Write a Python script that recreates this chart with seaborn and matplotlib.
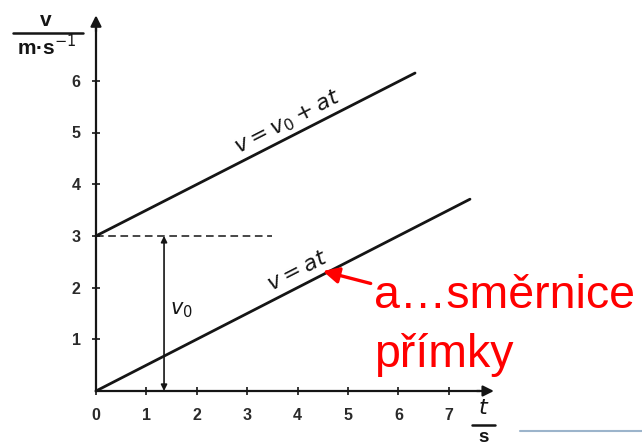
import numpy as np
import pandas as pd
import matplotlib.pyplot as plt
import seaborn as sns

# hodnoty
t_ticks = [0, 1, 2, 3, 4, 5, 6, 7]
v_ticks = [1, 2, 3, 4, 5, 6]
upper_t = [0.0, 6.33]
upper_v = [3.0, 6.15]
lower_t = [0.0, 7.42]
lower_v = [0.0, 3.71]
dash_t = [0.0, 3.5]
dash_v = [3.0, 3.0]
v0_t = 1.35
v0 = 3.0

W, H = 642, 447
sns.set_theme(style="white")
plt.rcParams["font.family"] = ["Liberation Sans", "DejaVu Sans"]

fig = plt.figure(figsize=(W / 100, H / 100), dpi=100)
ax = fig.add_axes([0, 0, 1, 1])
ax.patch.set_alpha(0)

# počátek a měřítko (v pixelech)
x0, y0 = 96, 391
sx, sy = 50.4, 51.7
ax.set_xlim(-x0 / sx, (W - x0) / sx)
ax.set_ylim(-(H - y0) / sy, y0 / sy)

ink = "#151515"

df_up = pd.DataFrame({"t": upper_t, "v": upper_v})
df_lo = pd.DataFrame({"t": lower_t, "v": lower_v})
sns.lineplot(data=df_up, x="t", y="v", ax=ax, color=ink, linewidth=2.0)
sns.lineplot(data=df_lo, x="t", y="v", ax=ax, color=ink, linewidth=2.0)
sns.lineplot(x=dash_t, y=dash_v, ax=ax, color=ink, linewidth=1.1, linestyle=(0, (5, 3)))

# osy se šipkami
for s in ["top", "right"]:
    ax.spines[s].set_visible(False)
ax.spines["left"].set_position(("data", 0))
ax.spines["bottom"].set_position(("data", 0))
ax.spines["left"].set_bounds(0, 7.0)
ax.spines["bottom"].set_bounds(0, 7.6)
for s in ["left", "bottom"]:
    ax.spines[s].set_color(ink)
    ax.spines[s].set_linewidth(1.6)
ax.annotate("", xy=(7.95, 0), xytext=(7.5, 0),
            arrowprops=dict(arrowstyle="-|>", color=ink, lw=1.6, mutation_scale=16))
ax.annotate("", xy=(0, 7.32), xytext=(0, 6.9),
            arrowprops=dict(arrowstyle="-|>", color=ink, lw=1.6, mutation_scale=16))

ax.set_xticks(t_ticks)
ax.set_yticks(v_ticks)
ax.set_xticklabels([str(t) for t in t_ticks])
ax.set_yticklabels([str(v) for v in v_ticks])
ax.tick_params(bottom=True, left=True, direction="inout", length=6, width=1.2,
               color=ink, labelcolor="#2a2a2a", labelsize=11.5)
ax.tick_params(axis="x", pad=9)
ax.tick_params(axis="y", pad=8)
for lab in ax.get_xticklabels() + ax.get_yticklabels():
    lab.set_fontweight("bold")
ax.set_xlabel("")
ax.set_ylabel("")

# v0 - dvojitá šipka
ax.annotate("", xy=(v0_t, v0), xytext=(v0_t, 0),
            arrowprops=dict(arrowstyle="<|-|>", color=ink, lw=1.2, mutation_scale=9,
                            shrinkA=0, shrinkB=0))
ax.text(v0_t + 0.35, 1.57, r"$v_0$", fontsize=15, color=ink, ha="center", va="center")

# popisky přímek
ang = np.degrees(np.arctan(0.5 * sy / sx))
ax.text(4.0, 2.32, r"$v = at$", rotation=ang, rotation_mode="anchor",
        fontsize=16, color=ink, ha="center", va="center")
ax.text(3.8, 5.2, r"$v = v_0 + at$", rotation=ang, rotation_mode="anchor",
        fontsize=16, color=ink, ha="center", va="center")

# popisky os (zlomky)
tr = ax.transAxes
def px(x, y):
    return x / W, 1 - y / H

ax.text(*px(46, 20), "v", transform=tr, fontsize=15, fontweight="bold",
        color=ink, ha="center", va="center")
ax.plot([13 / W, 83 / W], [1 - 33 / H, 1 - 33 / H], transform=tr, color=ink, lw=1.8)
ax.text(*px(47, 47), "m·s$^{-1}$", transform=tr, fontsize=15, fontweight="bold",
        color=ink, ha="center", va="center")
ax.text(*px(484, 409), r"$t$", transform=tr, fontsize=16, color=ink,
        ha="center", va="center")
ax.plot([472 / W, 495 / W], [1 - 425 / H, 1 - 425 / H], transform=tr, color=ink, lw=1.8)
ax.text(*px(484, 437), "s", transform=tr, fontsize=13.5, fontweight="bold",
        color=ink, ha="center", va="center")

# červená poznámka
red = "#ff0000"
ax.annotate("", xy=(4.5, 2.32), xytext=(5.45, 2.08),
            arrowprops=dict(arrowstyle="-|>", color=red, lw=2.4,
                            mutation_scale=24, shrinkA=0, shrinkB=0))
ax.text(*px(374, 308), "a…směrnice", transform=tr, fontsize=33.5, color=red,
        ha="left", va="baseline")
ax.text(*px(374, 367), "přímky", transform=tr, fontsize=33.5, color=red,
        ha="left", va="baseline")

# modrá linka vpravo dole
ax.plot([520 / W, 1.0], [1 - 431 / H, 1 - 431 / H], transform=tr,
        color="#9cb4cb", lw=1.5)

fig.savefig("out.png", dpi=100)
